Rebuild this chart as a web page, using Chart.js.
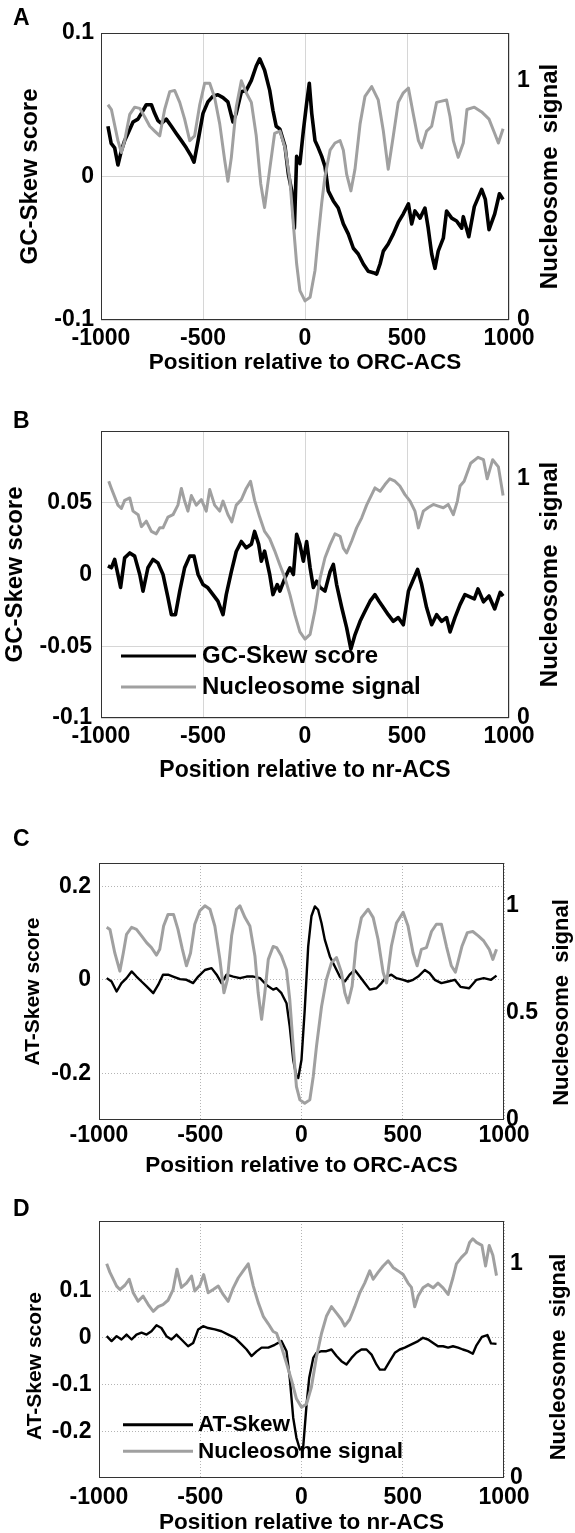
<!DOCTYPE html>
<html><head><meta charset="utf-8">
<script src="https://cdn.jsdelivr.net/npm/chart.js@4.4.1/dist/chart.umd.min.js"></script>
<style>
html,body{margin:0;padding:0;background:#fff;overflow:hidden;width:575px;height:1533px;}
.panel{position:absolute;left:0;width:575px;}
canvas{display:block;}
</style></head><body>
<div class="panel" style="top:0px"><canvas id="cA" width="575" height="390"></canvas></div>
<div class="panel" style="top:385px"><canvas id="cB" width="575" height="405"></canvas></div>
<div class="panel" style="top:785px"><canvas id="cC" width="575" height="395"></canvas></div>
<div class="panel" style="top:1180px"><canvas id="cD" width="575" height="360"></canvas></div>
<script>
// ---------- tick values / labels ----------
const xTickVals = [-1000, -500, 0, 500, 1000];
const xTickLabels = ['-1000', '-500', '0', '500', '1000'];
const leftTicksA = [-0.1, 0, 0.1];          const leftTextA = ['-0.1', '0', '0.1'];
const leftTicksB = [-0.1, -0.05, 0, 0.05];  const leftTextB = ['-0.1', '-0.05', '0', '0.05'];
const leftTicksC = [-0.2, 0, 0.2];          const leftTextC = ['-0.2', '0', '0.2'];
const leftTicksD = [-0.2, -0.1, 0, 0.1];    const leftTextD = ['-0.2', '-0.1', '0', '0.1'];
const rightTicksABD = [0, 1];               const rightTextABD = ['0', '1'];
const rightTicksC = [0, 0.5, 1];            const rightTextC = ['0', '0.5', '1'];

// ---------- Panel A : GC-skew around ORC-ACS ----------
const posA_skew = [-966,-950,-933,-917,-900,-884,-868,-843,-819,-802,-778,-753,-737,-721,-704,-680,-655,-631,-606,-582,-557,-544,-524,-500,-476,-451,-427,-402,-378,-353,-337,-312,-288,-263,-239,-222,-198,-173,-157,-141,-123,-98,-82,-65,-52,-41,-25,-8,8,21,33,49,65,82,98,114,139,163,188,212,237,261,286,310,335,351,368,384,408,433,457,482,507,523,539,564,588,604,621,637,653,678,694,719,743,768,776,803,830,866,884,902,930,953,971];
const skewA = [0.035,0.023,0.020,0.008,0.018,0.025,0.030,0.038,0.040,0.044,0.050,0.050,0.044,0.039,0.037,0.040,0.035,0.030,0.025,0.020,0.014,0.010,0.025,0.044,0.052,0.056,0.057,0.055,0.052,0.038,0.044,0.059,0.060,0.067,0.077,0.082,0.074,0.060,0.046,0.035,0.033,0.021,0.002,-0.010,-0.036,0.014,0.009,0.032,0.051,0.065,0.044,0.025,0.020,0.014,0.007,-0.010,-0.017,-0.022,-0.033,-0.040,-0.050,-0.054,-0.061,-0.066,-0.067,-0.068,-0.061,-0.052,-0.047,-0.040,-0.032,-0.026,-0.019,-0.033,-0.024,-0.029,-0.022,-0.036,-0.054,-0.064,-0.052,-0.043,-0.024,-0.029,-0.031,-0.036,-0.028,-0.042,-0.021,-0.009,-0.016,-0.037,-0.026,-0.012,-0.016];
const posA_nuc = [-966,-949,-917,-900,-884,-859,-835,-810,-786,-761,-737,-712,-688,-663,-639,-614,-590,-565,-541,-516,-492,-467,-443,-418,-394,-378,-361,-337,-312,-288,-263,-239,-217,-198,-173,-149,-123,-98,-74,-57,-41,-25,0,25,49,65,82,98,123,147,172,188,204,225,245,270,294,327,359,384,408,433,457,482,507,531,556,572,596,621,645,670,694,711,727,751,776,794,830,866,902,930,948,971];
const nucA = [0.90,0.88,0.75,0.70,0.75,0.86,0.89,0.885,0.85,0.81,0.79,0.77,0.88,0.955,0.96,0.91,0.84,0.75,0.77,0.90,0.99,0.99,0.93,0.82,0.67,0.58,0.68,0.89,1.00,0.95,0.91,0.77,0.57,0.47,0.63,0.78,0.79,0.72,0.585,0.40,0.235,0.123,0.08,0.095,0.207,0.35,0.49,0.60,0.71,0.74,0.75,0.71,0.61,0.54,0.63,0.82,0.935,0.976,0.92,0.79,0.63,0.77,0.91,0.95,0.97,0.86,0.75,0.72,0.79,0.81,0.91,0.915,0.92,0.85,0.75,0.68,0.74,0.88,0.89,0.87,0.84,0.78,0.74,0.80];

// ---------- Panel B : GC-skew around nr-ACS ----------
const posB_skew = [-966,-949,-933,-917,-904,-884,-859,-835,-810,-794,-770,-745,-721,-696,-672,-655,-635,-614,-590,-565,-544,-524,-500,-476,-451,-427,-402,-386,-361,-337,-312,-288,-263,-247,-227,-214,-198,-173,-157,-136,-123,-98,-74,-57,-41,-25,-8,8,25,41,57,74,98,123,139,155,180,204,225,245,270,294,319,343,363,384,408,433,457,482,507,531,552,572,596,621,645,670,694,711,735,760,784,830,848,875,902,930,957,971];
const skewB = [0.006,0.0047,0.0105,0,-0.009,0.0116,0.015,0.0128,0,-0.0116,0.0047,0.0105,0.0081,0,-0.016,-0.028,-0.028,-0.0116,0.0047,0.0128,0.0128,0,-0.007,-0.0093,-0.014,-0.0186,-0.028,-0.014,0.002,0.016,0.023,0.0186,0.021,0.030,0.021,0.0093,0.0163,0,-0.014,-0.007,-0.0116,-0.0023,0.0047,0,0.028,0.021,0.0093,0.023,0.0047,-0.009,-0.0047,-0.009,-0.0116,0.002,0.007,-0.007,-0.023,-0.037,-0.052,-0.042,-0.0326,-0.0256,-0.0186,-0.014,-0.0186,-0.023,-0.028,-0.0326,-0.030,-0.035,-0.0116,-0.0035,0.0035,-0.007,-0.023,-0.035,-0.028,-0.0326,-0.030,-0.040,-0.030,-0.021,-0.014,-0.017,-0.010,-0.019,-0.015,-0.024,-0.0125,-0.015];
const posB_nuc = [-962,-949,-917,-900,-884,-859,-843,-818,-802,-778,-753,-729,-712,-696,-672,-647,-623,-606,-590,-574,-557,-533,-508,-484,-467,-443,-418,-402,-378,-359,-337,-312,-288,-267,-247,-222,-198,-173,-149,-123,-98,-74,-49,-25,0,25,49,74,98,123,147,172,188,204,229,253,278,302,327,343,368,392,416,441,465,490,515,539,556,580,604,629,653,678,702,727,747,760,780,812,848,875,893,920,948,971];
const nucB = [0.99,0.96,0.89,0.876,0.91,0.92,0.865,0.85,0.80,0.823,0.78,0.77,0.795,0.795,0.84,0.85,0.89,0.96,0.907,0.865,0.93,0.89,0.913,0.865,0.955,0.89,0.865,0.907,0.851,0.82,0.89,0.913,0.96,0.99,0.91,0.84,0.78,0.75,0.70,0.64,0.585,0.516,0.43,0.36,0.33,0.35,0.45,0.585,0.67,0.725,0.77,0.76,0.71,0.69,0.74,0.795,0.837,0.89,0.934,0.962,0.948,0.976,1.0,0.99,0.97,0.934,0.907,0.865,0.795,0.865,0.88,0.893,0.886,0.879,0.893,0.85,0.907,0.97,0.99,1.065,1.09,1.08,1.0,1.08,1.05,0.93];

// ---------- Panel C : AT-skew around ORC-ACS ----------
const posC_skew = [-962,-938,-913,-889,-864,-839,-815,-790,-765,-732,-708,-684,-659,-634,-600,-568,-535,-510,-477,-444,-419,-395,-370,-337,-304,-271,-238,-205,-173,-140,-123,-99,-74,-58,-41,-25,-16,0,16,33,49,66,82,99,115,140,164,189,214,238,263,288,312,337,370,395,420,444,469,502,526,551,576,609,633,658,691,724,757,785,828,864,900,936,963];
const skewC = [0.0036,-0.0036,-0.025,-0.007,0.0036,0.018,0.007,-0.0036,-0.014,-0.0286,-0.011,0.011,0.011,0.007,0.0014,0,-0.007,0.007,0.021,0.025,0.011,-0.007,0.011,0.007,0.0036,0.007,0.007,0.0036,-0.011,-0.021,-0.018,-0.0286,-0.05,-0.10,-0.171,-0.207,-0.21,-0.171,-0.064,0.071,0.136,0.157,0.15,0.121,0.086,0.05,0.029,0.007,-0.0036,0.011,0.021,0.007,-0.007,-0.021,-0.018,-0.007,0.007,0.011,0.0036,0,-0.0036,0,0.007,0.021,0.014,0,-0.007,-0.0036,0,-0.015,-0.018,0,0.0036,0,0.009];
const posC_nuc = [-962,-946,-922,-897,-880,-864,-839,-815,-790,-765,-741,-716,-700,-681,-659,-632,-610,-589,-568,-548,-527,-502,-477,-452,-428,-403,-383,-366,-345,-321,-304,-279,-255,-230,-214,-197,-181,-164,-140,-123,-99,-74,-58,-41,-25,-8,16,41,58,74,99,123,148,173,197,214,230,250,271,296,329,354,378,403,420,444,469,502,526,551,571,592,617,642,666,691,716,740,760,792,819,846,873,900,927,945,963];
const nucC = [0.90,0.89,0.78,0.695,0.78,0.867,0.90,0.89,0.86,0.828,0.805,0.77,0.797,0.906,0.96,0.96,0.89,0.80,0.72,0.78,0.914,0.977,1.0,0.984,0.906,0.75,0.594,0.656,0.86,0.984,1.0,0.945,0.906,0.766,0.594,0.47,0.594,0.75,0.81,0.805,0.766,0.70,0.5625,0.344,0.156,0.094,0.078,0.094,0.203,0.344,0.53,0.656,0.734,0.758,0.69,0.594,0.547,0.625,0.83,0.945,0.984,0.945,0.844,0.69,0.64,0.8125,0.92,0.97,0.906,0.78,0.72,0.797,0.805,0.88,0.914,0.914,0.81,0.72,0.69,0.81,0.875,0.88,0.86,0.836,0.797,0.75,0.797];

// ---------- Panel D : AT-skew around nr-ACS ----------
const posD_skew = [-962,-938,-913,-889,-864,-839,-815,-790,-765,-741,-716,-692,-667,-642,-617,-593,-560,-535,-510,-486,-461,-428,-395,-362,-329,-296,-271,-247,-222,-197,-164,-132,-99,-74,-58,-41,-25,-8,8,25,38,58,74,99,123,148,173,197,222,247,271,296,321,346,370,387,411,436,461,485,510,543,576,600,625,650,674,699,724,748,773,797,822,846,864,891,918,936,963];
const skewD = [0.0036,-0.007,0.0036,-0.0036,0.007,-0.0036,0.007,0.011,0.007,0.014,0.027,0.021,0.0036,-0.0036,0.007,-0.0036,-0.018,-0.011,0.018,0.025,0.021,0.018,0.014,0.007,0,-0.014,-0.025,-0.039,-0.029,-0.021,-0.021,-0.015,-0.007,-0.0286,-0.086,-0.171,-0.214,-0.239,-0.236,-0.143,-0.086,-0.043,-0.032,-0.0286,-0.0286,-0.025,-0.039,-0.05,-0.057,-0.043,-0.032,-0.025,-0.025,-0.036,-0.057,-0.068,-0.068,-0.05,-0.032,-0.025,-0.021,-0.014,-0.007,0,-0.0036,-0.011,-0.018,-0.018,-0.021,-0.018,-0.021,-0.025,-0.0286,-0.034,-0.016,0.002,0.006,-0.012,-0.013];
const posD_nuc = [-962,-946,-913,-897,-872,-851,-831,-807,-782,-757,-732,-708,-684,-659,-634,-615,-593,-568,-543,-527,-502,-483,-461,-436,-411,-387,-362,-337,-312,-288,-263,-238,-214,-189,-164,-140,-123,-99,-74,-49,-25,0,25,49,74,99,123,148,173,197,214,238,263,288,312,337,354,378,403,428,452,477,502,526,543,559,576,600,625,650,674,699,724,748,765,790,814,830,846,864,891,909,927,945,963];
const nucD = [1.0,0.96,0.896,0.88,0.90,0.928,0.865,0.825,0.849,0.81,0.778,0.80,0.81,0.83,0.88,0.975,0.89,0.91,0.943,0.873,0.90,0.95,0.865,0.88,0.896,0.857,0.825,0.888,0.935,0.967,1.0,0.896,0.82,0.755,0.72,0.684,0.676,0.613,0.535,0.456,0.37,0.33,0.346,0.425,0.566,0.676,0.755,0.80,0.77,0.74,0.71,0.74,0.80,0.865,0.91,0.967,0.928,0.96,0.99,1.014,0.983,0.967,0.95,0.91,0.89,0.80,0.85,0.888,0.904,0.888,0.91,0.888,0.857,0.935,1.0,1.03,1.053,1.1,1.117,1.10,1.086,0.99,1.086,1.04,0.945];

// ---------- helpers ----------
const FONT = '"Liberation Sans", Arial, Helvetica, sans-serif';
Chart.defaults.font.family = FONT;
Chart.defaults.color = '#000';
const BLACK = '#000000', GREY = '#a0a0a0';

function pts(xs, ys) { return xs.map((x, i) => ({ x: x, y: ys[i] })); }
function fixTicks(vals) { return s => { s.ticks = vals.map(v => ({ value: v })); }; }
function fmt(vals, texts) { return v => { const i = vals.indexOf(v); return i >= 0 ? texts[i] : ''; }; }

const decor = {
  id: 'decor',
  afterDatasetsDraw(chart, args, o) {
    const c = chart.ctx, a = chart.chartArea;
    c.save();
    c.strokeStyle = '#333'; c.lineWidth = 1;
    c.strokeRect(a.left + 0.5, a.top + 0.5, a.right - a.left - 1, a.bottom - a.top - 1);
    c.fillStyle = '#000';
    c.font = 'bold 23px ' + FONT; c.textAlign = 'left'; c.textBaseline = 'middle';
    c.fillText(o.letter, o.letterX, o.letterY);
    const midY = (a.top + a.bottom) / 2;
    [[o.leftTitle, o.lx, o.ldy, o.lsize], [o.rightTitle, o.rx, o.rdy, o.rsize]].forEach(t => {
      c.save();
      c.translate(t[1], midY + t[2]);
      c.rotate(-Math.PI / 2);
      c.font = 'bold ' + t[3] + 'px ' + FONT; c.textAlign = 'center'; c.textBaseline = 'middle';
      c.fillText(t[0], 0, 0);
      c.restore();
    });
    if (o.legend) {
      const ds = chart.data.datasets;
      c.font = 'bold ' + o.legend.size + 'px ' + FONT; c.textAlign = 'left'; c.textBaseline = 'middle';
      o.legend.rows.forEach((y, i) => {
        c.strokeStyle = ds[i].borderColor; c.lineWidth = 3;
        c.beginPath(); c.moveTo(o.legend.x1, y); c.lineTo(o.legend.x2, y); c.stroke();
        c.fillStyle = '#000';
        c.fillText(ds[i].label, o.legend.tx, y);
      });
    }
    c.restore();
  }
};

function makePanel(p) {
  const gridCfg = { color: p.gridColor, lineWidth: 1, drawTicks: false };
  const borderCfg = { display: false, dash: p.dash };
  return new Chart(document.getElementById(p.id), {
    type: 'line',
    data: { datasets: [
      { label: p.skewLabel, data: pts(p.skewX, p.skewY), yAxisID: 'y', borderColor: BLACK, backgroundColor: BLACK,
        borderWidth: p.skewW, pointRadius: 0, tension: 0, order: 1, borderJoinStyle: 'round' },
      { label: 'Nucleosome signal', data: pts(p.nucX, p.nucY), yAxisID: 'y1', borderColor: GREY, backgroundColor: GREY,
        borderWidth: 3, pointRadius: 0, tension: 0, order: 0, borderJoinStyle: 'round' }
    ]},
    options: {
      responsive: false, animation: false, devicePixelRatio: 1,
      layout: { padding: { top: p.caTop, bottom: p.pb, left: 0, right: 0 } },
      plugins: { legend: { display: false }, tooltip: { enabled: false }, decor: p.decor },
      scales: {
        x: { type: 'linear', min: -1000, max: 1000,
          afterBuildTicks: fixTicks(xTickVals), afterFit: s => { s.height = p.xH; },
          grid: gridCfg, border: borderCfg,
          ticks: { autoSkip: false, maxRotation: 0, padding: p.xpad, font: { size: 23, weight: 'bold' }, color: '#000',
                   callback: fmt(xTickVals, xTickLabels) },
          title: { display: true, text: p.xTitle, font: { size: p.xTitleSize, weight: 'bold' }, color: '#000',
                   padding: { top: 0, bottom: 0 } } },
        y: { position: 'left', min: p.leftMin, max: p.leftMax,
          afterBuildTicks: fixTicks(p.leftTicks), afterFit: s => { s.width = p.caLeft; },
          grid: gridCfg, border: borderCfg,
          ticks: { padding: p.lpad, font: { size: 23, weight: 'bold' }, color: '#000', callback: fmt(p.leftTicks, p.leftText) } },
        y1: { position: 'right', min: 0, max: 1.2,
          afterBuildTicks: fixTicks(p.rightTicks), afterFit: s => { s.width = 575 - p.caRight; },
          grid: { display: false, drawTicks: false }, border: { display: false },
          ticks: { padding: p.rpad, font: { size: 23, weight: 'bold' }, color: '#000', callback: fmt(p.rightTicks, p.rightText) } }
      }
    },
    plugins: [decor]
  });
}

makePanel({ id: 'cA', skewLabel: 'GC-Skew score', xTitle: 'Position relative to ORC-ACS', xTitleSize: 22.5,
  skewX: posA_skew, skewY: skewA, nucX: posA_nuc, nucY: nucA, skewW: 3.6,
  leftMin: -0.1, leftMax: 0.1, leftTicks: leftTicksA, leftText: leftTextA, rightTicks: rightTicksABD, rightText: rightTextABD,
  caTop: 33, caLeft: 101, caRight: 509, pb: 14, xH: 56, xpad: 4.5, lpad: 7, rpad: 8,
  gridColor: '#d6d6d6', dash: [],
  decor: { letter: 'A', letterX: 13, letterY: 18.5, leftTitle: 'GC-Skew score', lx: 30, ldy: 0, lsize: 24,
           rightTitle: 'Nucleosome  signal', rx: 550, rdy: 0, rsize: 24 } });

makePanel({ id: 'cB', skewLabel: 'GC-Skew score', xTitle: 'Position relative to nr-ACS', xTitleSize: 23,
  skewX: posB_skew, skewY: skewB, nucX: posB_nuc, nucY: nucB, skewW: 3.6,
  leftMin: -0.1, leftMax: 0.1, leftTicks: leftTicksB, leftText: leftTextB, rightTicks: rightTicksABD, rightText: rightTextABD,
  caTop: 46, caLeft: 101, caRight: 509, pb: 5.5, xH: 66.5, xpad: 5.2, lpad: 9, rpad: 8,
  gridColor: '#d6d6d6', dash: [],
  decor: { letter: 'B', letterX: 13, letterY: 36.5, leftTitle: 'GC-Skew score', lx: 15.5, ldy: 0, lsize: 24,
           rightTitle: 'Nucleosome  signal', rx: 550, rdy: 0, rsize: 24,
           legend: { x1: 121, x2: 196, tx: 202, rows: [271, 302], size: 24 } } });

makePanel({ id: 'cC', skewLabel: 'AT-Skew', xTitle: 'Position relative to ORC-ACS', xTitleSize: 22.5,
  skewX: posC_skew, skewY: skewC, nucX: posC_nuc, nucY: nucC, skewW: 2.4,
  leftMin: -0.3, leftMax: 0.25, leftTicks: leftTicksC, leftText: leftTextC, rightTicks: rightTicksC, rightText: rightTextC,
  caTop: 78, caLeft: 99, caRight: 504, pb: 0.5, xH: 59.5, xpad: 2.2, lpad: 8, rpad: 2,
  gridColor: '#b4b4b4', dash: [1, 2],
  decor: { letter: 'C', letterX: 13, letterY: 54.5, leftTitle: 'AT-Skew score', lx: 33, ldy: 0, lsize: 21,
           rightTitle: 'Nucleosome  signal', rx: 562, rdy: 11, rsize: 22 } });

makePanel({ id: 'cD', skewLabel: 'AT-Skew', xTitle: 'Position relative to nr-ACS', xTitleSize: 22.5,
  skewX: posD_skew, skewY: skewD, nucX: posD_nuc, nucY: nucD, skewW: 2.4,
  leftMin: -0.3, leftMax: 0.25, leftTicks: leftTicksD, leftText: leftTextD, rightTicks: rightTicksABD, rightText: rightTextABD,
  caTop: 41, caLeft: 99, caRight: 504, pb: 3.5, xH: 58.5, xpad: 5.7, lpad: 7.5, rpad: 6,
  gridColor: '#b4b4b4', dash: [1, 2],
  decor: { letter: 'D', letterX: 13, letterY: 29.5, leftTitle: 'AT-Skew score', lx: 35, ldy: 16.5, lsize: 21,
           rightTitle: 'Nucleosome  signal', rx: 558.5, rdy: 7.5, rsize: 22,
           legend: { x1: 123, x2: 193, tx: 198, rows: [244.7, 271.3], size: 22.5 } } });
</script>
</body></html>
